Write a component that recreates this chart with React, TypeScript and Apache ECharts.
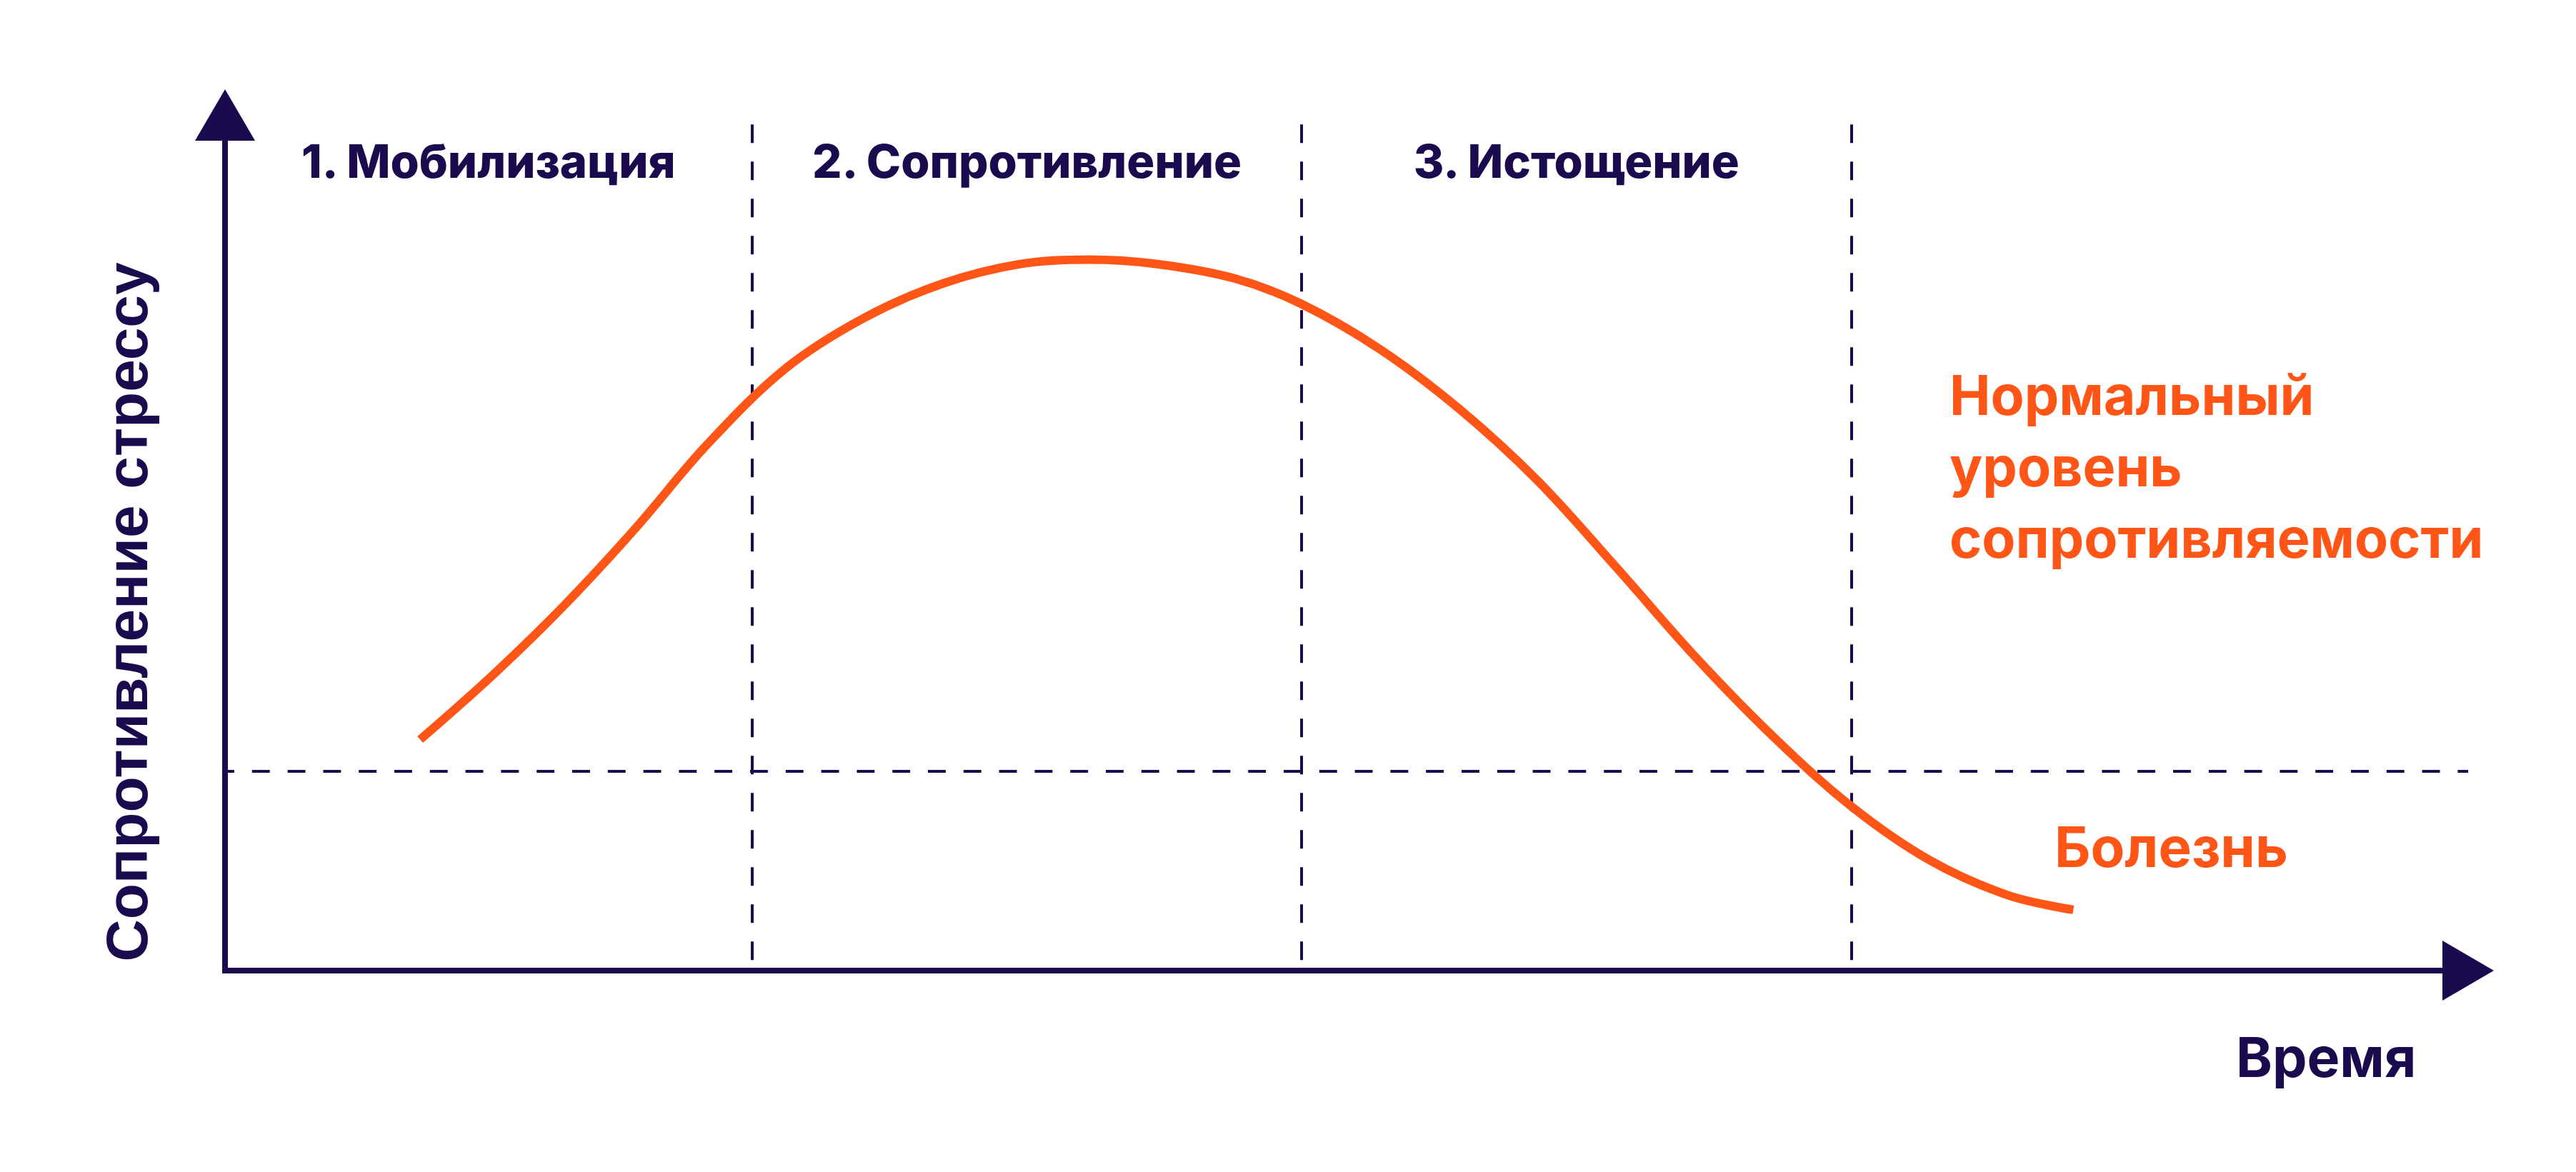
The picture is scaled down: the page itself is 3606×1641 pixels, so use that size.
import React, { useEffect, useRef } from "react";
import * as echarts from "echarts";

const NAVY = "#1C0A4F";
const ORANGE = "#FF5516";

// Curve: resistance to stress over time
const timeValues = [
  8.7, 12.0, 15.2, 18.3, 21.5, 25.0, 28.5, 32.0, 35.5, 38.5, 41.5, 45.0,
  48.0, 51.5, 55.0, 58.5, 62.0, 65.5, 69.0, 72.5, 76.0, 79.5, 82.4,
];
const resistanceValues = [
  27.0, 34.7, 42.9, 51.7, 61.5, 70.4, 76.3, 80.3, 82.6, 83.1, 82.6, 80.9,
  77.9, 72.6, 65.7, 57.3, 47.2, 36.8, 27.4, 19.2, 12.9, 8.8, 7.1,
];

const stageNames = ["1. Мобилизация", "2. Сопротивление", "3. Истощение"];
const stageBounds = [0, 23.5, 48, 72.5];
const illnessThreshold = 23.3;
const dividerTop = 98.9;
const stageTitleBand = [89.3, 100];

const xAxisName = "Время";
const yAxisName = "Сопротивление стрессу";
const normalLabelLines = ["Нормальный", "уровень", "сопротивляемости"];
const illnessLabel = "Болезнь";

const FONT = 'Inter, "Noto Sans", sans-serif';

export default function App() {
  const ref = useRef<HTMLDivElement>(null);

  useEffect(() => {
    if (!ref.current) return;
    const chart = echarts.init(ref.current, undefined, { renderer: "svg" });

    const axisCommon = {
      type: "value" as const,
      min: 0,
      max: 100,
      axisLine: {
        show: true,
        onZero: false,
        symbol: ["none", "triangle"],
        symbolSize: [84, 72],
        lineStyle: { color: NAVY, width: 8, cap: "square" },
      },
      axisTick: { show: false },
      axisLabel: { show: false },
      splitLine: { show: false },
    };

    const dividerLines = stageBounds.slice(1).map((b) => [
      { coord: [b, dividerTop], lineStyle: { color: NAVY, width: 4, type: [26, 26] } },
      { coord: [b, 0] },
    ]);
    const thresholdLine = [
      {
        coord: [0, illnessThreshold],
        lineStyle: { color: NAVY, width: 4, type: [24.9, 24.9], dashOffset: 11.8 },
      },
      { coord: [100, illnessThreshold] },
    ];

    const option: any = {
      animation: false,
      backgroundColor: "#ffffff",
      grid: { left: 315, right: 151, top: 161, bottom: 282 },
      xAxis: axisCommon,
      yAxis: axisCommon,
      series: [
        {
          type: "line",
          name: yAxisName,
          data: timeValues.map((t, i) => [t, resistanceValues[i]]),
          showSymbol: false,
          symbol: "none",
          smooth: 0.35,
          z: 3,
          lineStyle: { color: ORANGE, width: 12, cap: "butt" },
          markLine: {
            silent: true,
            z: 1,
            symbol: "none",
            label: { show: false },
            emphasis: { disabled: true },
            lineStyle: { color: NAVY, width: 4, type: [26, 26] },
            data: [...dividerLines, thresholdLine],
          },
          markArea: {
            silent: true,
            itemStyle: { color: "rgba(0,0,0,0)" },
            label: {
              show: true,
              position: "inside",
              color: NAVY,
              fontFamily: FONT,
              fontWeight: 800,
              fontSize: 65,
            },
            data: stageNames.map((n, i) => [
              { name: n, coord: [stageBounds[i], stageTitleBand[0]] },
              { coord: [stageBounds[i + 1], stageTitleBand[1]] },
            ]),
          },
        },
      ],
      graphic: [
        {
          type: "text",
          x: 177,
          y: 857,
          rotation: Math.PI / 2,
          style: {
            text: yAxisName,
            fill: NAVY,
            fontFamily: '"Liberation Sans", Arial, sans-serif',
            fontWeight: 700,
            fontSize: 82,
            align: "center",
            verticalAlign: "middle",
          },
        },
        {
          type: "text",
          x: 3130,
          y: 1480,
          style: {
            text: xAxisName,
            fill: NAVY,
            fontFamily: FONT,
            fontWeight: 700,
            fontSize: 77,
            align: "left",
            verticalAlign: "middle",
          },
        },
        {
          type: "text",
          x: 2729,
          y: 503,
          style: {
            text: normalLabelLines.join("\n"),
            fill: ORANGE,
            fontFamily: FONT,
            fontWeight: 700,
            fontSize: 77,
            lineHeight: 100,
            align: "left",
            verticalAlign: "top",
          },
        },
        {
          type: "text",
          x: 2876,
          y: 1185,
          style: {
            text: illnessLabel,
            fill: ORANGE,
            fontFamily: FONT,
            fontWeight: 700,
            fontSize: 78,
            align: "left",
            verticalAlign: "middle",
          },
        },
      ],
    };

    chart.setOption(option);
    return () => chart.dispose();
  }, []);

  return (
    <div
      ref={ref}
      style={{ position: "fixed", left: 0, top: 0, width: 3606, height: 1641, background: "#fff" }}
    />
  );
}
